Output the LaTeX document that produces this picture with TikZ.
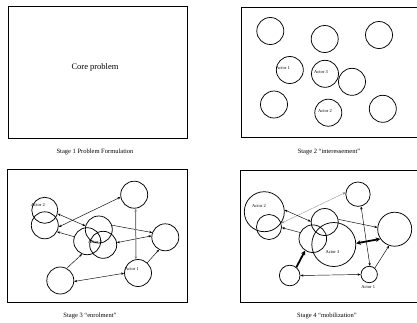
\documentclass[tikz,border=0pt]{standalone}
\usepackage{fontspec}
\setmainfont{Liberation Serif}
\usetikzlibrary{arrows.meta}
\tikzset{frame/.style={line width=0.9pt}}
\tikzset{actor/.style={circle,draw,line width=0.75pt,inner sep=0pt,minimum size=#1}}
\tikzset{actlabel/.style={font=\fontsize{4.5}{5}\selectfont,inner sep=0pt}}
\tikzset{caption/.style={font=\fontsize{6.5}{7}\selectfont,inner sep=0pt}}
\tikzset{linkA/.style={line width=0.45pt,-{Stealth[length=3pt,width=2.4pt]}}}
\tikzset{linkB/.style={line width=0.45pt,
    {Stealth[length=3pt,width=2.4pt]}-{Stealth[length=3pt,width=2.4pt]}}}
\tikzset{linkC/.style={line width=1.8pt,-{Stealth[length=4.5pt,width=4.5pt]}}}
\tikzset{linkD/.style={line width=1.8pt,
    {Stealth[length=4.5pt,width=4.5pt]}-{Stealth[length=4.5pt,width=4.5pt]}}}

\begin{document}
\begin{tikzpicture}[x=1pt,y=-1pt]

\useasboundingbox (0,0) rectangle (417,322);

\pgfmathsetmacro{\D}{27}

% 第1段階
\draw[frame] (8,6) rectangle (187,138);
\node[font=\fontsize{8.5}{9}\selectfont] (core) at (95,67) {Core problem};
\node[caption] (capA) at (95,152) {Stage 1 Problem Formulation};

% 第2段階
\draw[frame] (241,7) rectangle (419,137);
\node[actor=\D pt] (ia) at (270.3,31) {};
\node[actor=\D pt] (ib) at (324.7,39) {};
\node[actor=\D pt] (ic) at (379,35) {};
\node[actor=\D pt] (id) at (289.8,70) {};
\node[actor=\D pt] (ie) at (325,73.8) {};
\node[actor=\D pt] (if) at (352,81.8) {};
\node[actor=\D pt] (ig) at (274,104.5) {};
\node[actor=\D pt] (ih) at (328.3,112.7) {};
\node[actor=\D pt] (ii) at (382.8,108.8) {};
\node[actlabel] (idl) at (283,68) {Actor 1};
\node[actlabel] (iel) at (321,72.3) {Actor 3};
\node[actlabel] (ihl) at (325,111) {Actor 2};
\node[caption] (capB) at (329,152) {Stage 2 “interessement”};

% 第3段階
\draw[frame] (7,169) rectangle (187,302);
\node[actor=\D pt] (ea) at (134.2,194.7) {};
\node[actor=26pt] (eb) at (44.8,210.3) {};
\node[actor=\D pt] (ec) at (44.8,225.3) {};
\node[actor=\D pt] (ed) at (87.2,241.2) {};
\node[actor=\D pt] (ee) at (98.8,229.5) {};
\node[actor=\D pt] (ef) at (103.2,244.8) {};
\node[actor=\D pt] (eg) at (165.3,237.3) {};
\node[actor=\D pt] (eh) at (138,273) {};
\node[actor=\D pt] (ei) at (60.3,280.5) {};
\node[actlabel] (ebl) at (38,205) {Actor 2};
\node[actlabel] (efl) at (95,242) {Actor 3};
\node[actlabel] (ehl) at (132,269) {Actor 1};

\draw[linkB] (ec.353) -- (ea.190);
\draw[linkB] (eb.345) -- (ee.165);
\draw[linkA] (ee.18) -- (eg.160);
\draw[linkA] (ed.161) -- (ec.332);
\draw[linkB] (ef.9) -- (eg.174);
\draw[linkB,gray,line width=1pt] (ea.276) -- (eh.99);
\draw[linkA] (eh.48) -- (eg.243);
\draw[linkA] (ei.62) -- (ed.248);
\draw[linkB] (ei.356) -- (eh.181);
\node[caption] (capC) at (90,316) {Stage 3 “enrolment”};

% 第4段階
\draw[frame] (240,170) rectangle (419,302);
\node[actor=24.4pt] (ma) at (358,194.2) {};
\node[actor=40pt] (mb) at (264.3,211.7) {};
\node[actor=25pt] (mc) at (269,227) {};
\node[actor=27.6pt] (md) at (312.8,238.7) {};
\node[actor=\D pt] (me) at (324.7,222) {};
\node[actor=44pt] (mf) at (333.8,244.5) {};
\node[actor=34pt] (mg) at (394.7,229.2) {};
\node[actor=16.4pt] (mh) at (369.2,274.5) {};
\node[actor=20.6pt] (mi) at (289.7,275.5) {};
\node[actlabel] (mbl) at (259,206) {Actor 2};
\node[actlabel] (mfl) at (332.5,252.3) {Actor 3};
\node[actlabel] (mhl) at (368.3,287.3) {Actor 1};

\draw[linkB,gray,line width=0.3pt] (mc.17) -- (ma.172);
\draw[linkB] (mb.5) -- (me.178);
\draw[linkA] (md.154) -- (mc.357);
\draw[linkA] (me.11) -- (mg.174);
\draw[linkD] (mf.3) -- (mg.214);
\draw[linkC] (mi.51) -- (md.237);
\draw[linkB] (ma.284) -- (mh.85);
\draw[linkA] (mh.49) -- (mg.251);
\draw[linkB] (mi.0) -- (mh.180);
\node[caption] (capD) at (327,316) {Stage 4 “mobilization”};

\end{tikzpicture}
\end{document}
